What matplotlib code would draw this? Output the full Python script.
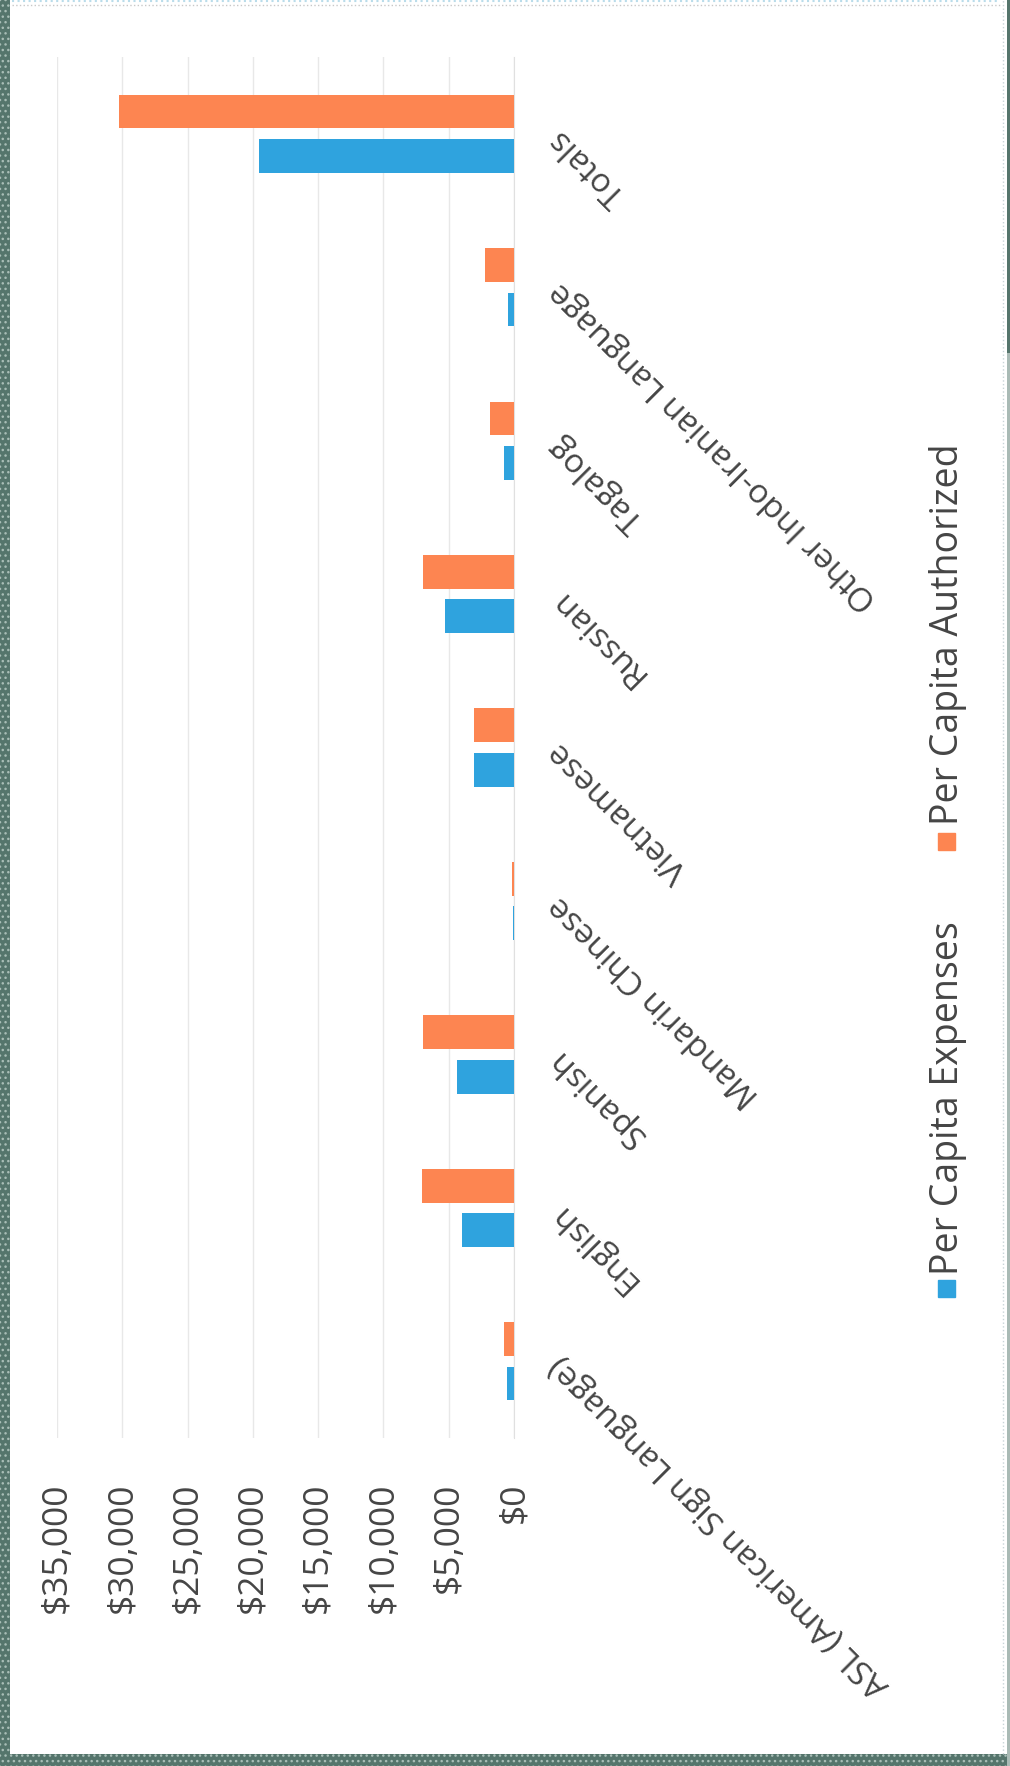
import matplotlib
matplotlib.use("Agg")
import matplotlib.pyplot as plt
import numpy as np
from matplotlib.patches import Rectangle
from matplotlib.lines import Line2D

categories = ["ASL (American Sign Language)", "English", "Spanish",
              "Mandarin Chinese", "Vietnamese", "Russian", "Tagalog",
              "Other Indo-Iranian Language", "Totals"]
expenses = [500, 3950, 4350, 100, 3100, 5300, 750, 470, 19550]
authorized = [780, 7050, 7000, 170, 3050, 7000, 1870, 2240, 30250]
value_ticks = [0, 5000, 10000, 15000, 20000, 25000, 30000, 35000]
series_names = ["Per Capita Expenses", "Per Capita Authorized"]

blue = "#2fa3de"
orange = "#fd8551"
text_color = "#454545"

plt.rcParams['font.family'] = ['Open Sans', 'DejaVu Sans']

fig = plt.figure(figsize=(10.10, 17.66), dpi=100)
ax = fig.add_axes([0.0564, 0.1857, 0.4525, 0.7820])

y = np.arange(len(categories))
h = 0.22
ax.barh(y + 0.145, authorized, height=h, color=orange, zorder=3)
ax.barh(y - 0.145, expenses, height=h, color=blue, zorder=3)

ax.set_xlim(35000, 0)   # values grow to the left
ax.set_ylim(-0.5, len(categories) - 0.5)

ax.set_xticks(value_ticks)
ax.set_xticklabels([f"${v:,.0f}" for v in value_ticks], rotation=90,
                   fontsize=25.5, color=text_color)
ax.tick_params(axis='x', length=0, pad=32)
ax.grid(axis='x', color='#e8e8e8', linewidth=1, zorder=0)

ax.yaxis.tick_right()
ax.set_yticks(y)
ax.set_yticklabels(categories, rotation=135, ha='right', va='center',
                   rotation_mode='anchor', fontsize=24, color=text_color)
ax.tick_params(axis='y', length=0, pad=29)

for side in ['top', 'left', 'bottom']:
    ax.spines[side].set_visible(False)
ax.spines['right'].set_color('#e0e0e0')

# legend, turned like the rest of the chart
fig.add_artist(Rectangle((938 / 1010, 1 - 1297 / 1766), 17 / 1010, 17 / 1766,
                         transform=fig.transFigure, color=blue))
fig.text(948 / 1010, 1 - 1275 / 1766, series_names[0], rotation=90,
         ha='center', va='bottom', fontsize=27, color=text_color)
fig.add_artist(Rectangle((938 / 1010, 1 - 850 / 1766), 17 / 1010, 17 / 1766,
                         transform=fig.transFigure, color=orange))
fig.text(948 / 1010, 1 - 825 / 1766, series_names[1], rotation=90,
         ha='center', va='bottom', fontsize=27, color=text_color)

# scanned page edges
edge = "#55756c"
fig.add_artist(Rectangle((0, 0), 10 / 1010, 1, transform=fig.transFigure,
                         facecolor=edge, edgecolor='#a8bdb6', hatch='...',
                         linewidth=0))
fig.add_artist(Rectangle((0, 0), 1, 12 / 1766, transform=fig.transFigure,
                         facecolor=edge, edgecolor='#a8bdb6', hatch='...',
                         linewidth=0))
fig.add_artist(Rectangle((1007 / 1010, 0), 3 / 1010, 1,
                         transform=fig.transFigure, facecolor='#a9bab5',
                         linewidth=0))
fig.add_artist(Rectangle((1007 / 1010, 0.8), 3 / 1010, 0.2,
                         transform=fig.transFigure, facecolor=edge,
                         linewidth=0))
fig.add_artist(Line2D([12 / 1010, 1000 / 1010], [1 - 1 / 1766, 1 - 1 / 1766],
                      transform=fig.transFigure, color='#b9dcea',
                      linewidth=1.5, linestyle=':'))
fig.add_artist(Line2D([12 / 1010, 1000 / 1010], [1 - 5 / 1766, 1 - 5 / 1766],
                      transform=fig.transFigure, color='#c8c8c8',
                      linewidth=1, linestyle=':'))
fig.add_artist(Line2D([1003 / 1010, 1003 / 1010], [12 / 1766, 1],
                      transform=fig.transFigure, color='#c8d4d8',
                      linewidth=1, linestyle=':'))

fig.savefig("out.png", dpi=100)
